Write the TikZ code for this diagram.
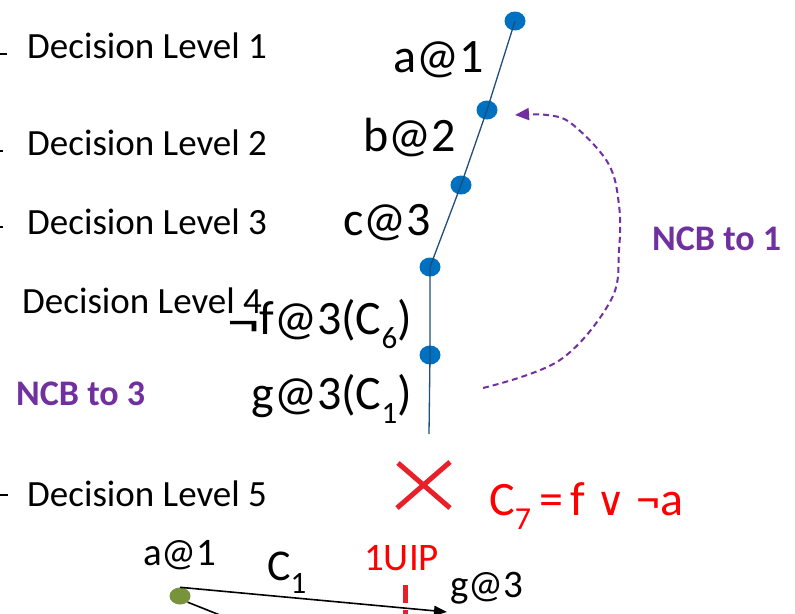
\documentclass[tikz,border=0pt]{standalone}
\usepackage{fontspec}
\setmainfont{Carlito}
\newfontfamily\djv{DejaVu Sans}
\usetikzlibrary{arrows.meta,shapes.geometric}
\definecolor{dotblue}{HTML}{0070C0}
\definecolor{linkblue}{HTML}{1F4E79}
\definecolor{ncbpurple}{HTML}{7030A0}
\definecolor{xred}{HTML}{E8202A}
\definecolor{txtred}{HTML}{FF0000}
\definecolor{olivegreen}{HTML}{77933C}
\newcommand\subsc[2]{\raisebox{-0.3em}{\fontsize{#1}{#1}\selectfont #2}}
\newcommand\bignegsym{{\raisebox{-0.12em}{\scalebox{1.25}[1]{\fontsize{52}{52}\selectfont ¬}}}}
\begin{document}
\begin{tikzpicture}[x=1pt,y=-1pt,
  lvl/.style={anchor=base west, inner sep=0pt, font=\fontsize{37}{40}\selectfont},
  lit/.style={anchor=base east, inner sep=0pt, font=\fontsize{48}{52}\selectfont},
  small/.style={anchor=base west, inner sep=0pt, font=\fontsize{39}{42}\selectfont},
  ncb/.style={anchor=base west, inner sep=0pt, text=ncbpurple, font=\fontsize{36}{40}\selectfont\bfseries},
  vdot/.style={ellipse, fill=dotblue, draw=none, minimum width=21pt, minimum height=19pt, inner sep=0pt},
  gdot/.style={ellipse, fill=olivegreen, draw=none, minimum width=21pt, minimum height=17pt, inner sep=0pt},
  trail/.style={draw=linkblue, line width=1.3pt},
  tick/.style={draw=black, line width=1.3pt},
  back/.style={draw=ncbpurple, line width=2pt, dash pattern=on 6pt off 4pt, -{Triangle[length=14pt,width=12pt]}},
  cross/.style={draw=xred, line width=5pt},
  edge/.style={draw=black, line width=1.6pt},
  cut/.style={draw=xred, line width=5pt, dash pattern=on 18pt off 7pt}
]
\useasboundingbox (0,0) rectangle (795,613);
\clip (0,0) rectangle (795,613);

% decision levels
\node[lvl] (L1) at (27,58) {Decision Level 1};
\node[lvl] (L2) at (27,155) {Decision Level 2};
\node[lvl] (L3) at (27,234) {Decision Level 3};
\node[lvl] (L4) at (22,313) {Decision Level 4};
\node[lvl] (L5) at (27,506) {Decision Level 5};
\draw[tick] (0,54) -- (7,54);
\draw[tick] (0,151) -- (3,151);
\draw[tick] (0,227) -- (3,227);
\draw[tick] (0,495) -- (8,495);

% trail
\node[vdot] (d1) at (515,21) {};
\node[vdot] (d2) at (487,110) {};
\node[vdot] (d3) at (461,185) {};
\node[vdot] (d4) at (430,267) {};
\node[vdot] (d5) at (430,355) {};
\coordinate (dend) at (429,434);
\draw[trail] (d1.center) -- (d2.center) -- (d3.center) -- (d4.center) -- (d5.center) -- (dend);

\node[lit] (la) at (484,72) {a@1};
\node[lit] (lb) at (456,151) {b@2};
\node[lit] (lc) at (431,235) {c@3};
\node[lit] (lf) at (412,334) {\bignegsym f@3(C\subsc{31}{6})};
\node[lit] (lg) at (412,409) {g@3(C\subsc{31}{1})};

\node[ncb] (n3) at (16,405) {NCB to 3};
\node[ncb] (n1) at (652,250) {NCB to 1};

% backjump arrow
\coordinate (bs) at (483,388);
\coordinate (be) at (515,115);
\draw[back] plot[smooth, tension=0.6] coordinates {(bs) (560,360) (611,300) (619,250) (619,205) (608,163) (572,124) (547,115) (be)};

% conflict
\draw[cross] (398,463) -- (450,508);
\draw[cross] (397,508) -- (450,462);
\node[anchor=base west, inner sep=0pt, text=txtred, font=\fontsize{48}{52}\selectfont] (c7) at (489,515)
  {C\subsc{32}{7}\,=\,f {\djv\fontsize{40}{44}\selectfont ∨} ¬a};

% implication graph fragment
\node[small, text=txtred] (uip) at (364,570) {1UIP};
\node[small] (ba) at (143,565) {a@1};
\node[small] (bg) at (450,597) {g@3};
\node[anchor=base west, inner sep=0pt, font=\fontsize{44}{46}\selectfont] (bc1) at (267,580) {C\subsc{31}{1}};
\node[gdot] (ga) at (180,596) {};
\coordinate (gtip) at (447,612);
\draw[edge, -{Triangle[length=13pt,width=10pt]}] (ga.north) -- (gtip);
\coordinate (gdown) at (260,631);
\draw[edge] (ga.south east) -- (gdown);
\coordinate (cuttop) at (405,585);
\coordinate (cutbot) at (405,640);
\draw[cut] (cuttop) -- (cutbot);
\end{tikzpicture}
\end{document}
